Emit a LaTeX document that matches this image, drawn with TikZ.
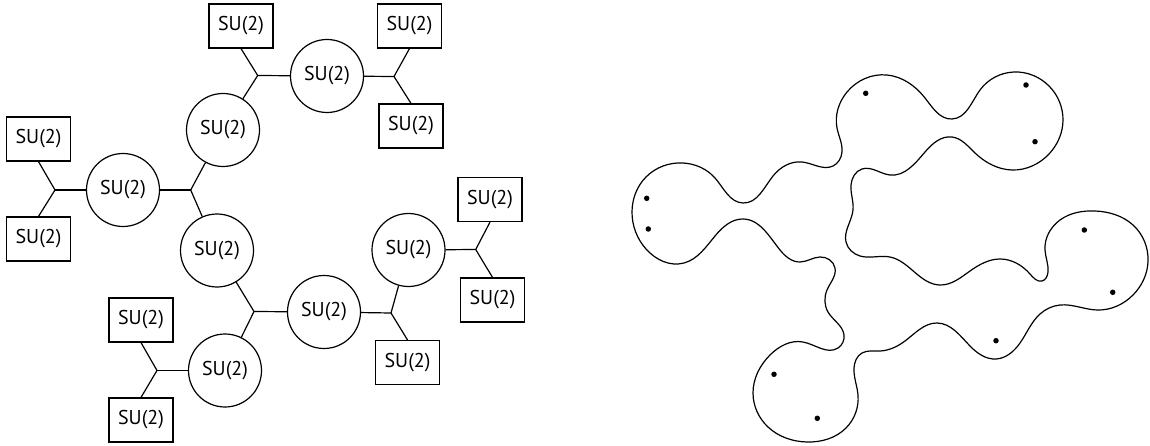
\documentclass[tikz,border=0pt]{standalone}
\usepackage{fontspec}
\setmainfont{PT Sans}
\usetikzlibrary{hobby}
\begin{document}
\begin{tikzpicture}[x=1pt,y=-1pt,
  every node/.style={font=\fontsize{20}{22}\selectfont},
  gbox/.style={draw,line width=1.2pt,minimum width=64pt,minimum height=44pt,inner sep=0pt},
  gcirc/.style={draw,circle,line width=1.2pt,minimum size=73pt,inner sep=0pt},
  link/.style={line width=1.2pt},
  blob/.style={line width=1.2pt},
  pt/.style={fill=black,circle,inner sep=0pt,minimum size=5.5pt}]
\useasboundingbox (0,0) rectangle (1150,446);
% circles
\node[gcirc] (cL) at (123,190) {SU(2)};
\node[gcirc] (c2) at (223,130) {SU(2)};
\node[gcirc] (cT) at (327,76) {SU(2)};
\node[gcirc] (c3) at (217,250.5) {SU(2)};
\node[gcirc] (cM) at (324,312) {SU(2)};
\node[gcirc] (cR) at (408.5,250) {SU(2)};
\node[gcirc] (cB) at (225,370.5) {SU(2)};
% boxes
\node[gbox] (b1) at (38.5,139) {SU(2)};
\node[gbox] (b2) at (38.5,239) {SU(2)};
\node[gbox] (b3) at (241,26) {SU(2)};
\node[gbox] (b4) at (409.5,26) {SU(2)};
\node[gbox] (b5) at (411,126) {SU(2)};
\node[gbox] (b6) at (490,199.5) {SU(2)};
\node[gbox] (b7) at (492.5,300) {SU(2)};
\node[gbox] (b8) at (407.5,362.5) {SU(2)};
\node[gbox] (b9) at (141,320) {SU(2)};
\node[gbox] (b10) at (141,420) {SU(2)};
% junctions
\coordinate (j1) at (55,190);
\coordinate (j2) at (190.7,190);
\coordinate (j3) at (257.7,75.5);
\coordinate (j4) at (394,76.5);
\coordinate (j5) at (254,311.5);
\coordinate (j6) at (391,313);
\coordinate (j7) at (475.7,249.5);
\coordinate (j8) at (157,370.5);
\draw[link] (b1.south) -- (j1) -- (b2.north);
\draw[link] (j1) -- (cL);
\draw[link] (cL) -- (j2);
\draw[link] (j2) -- (c2);
\draw[link] (j2) -- (c3);
\draw[link] (c2) -- (j3);
\draw[link] (b3.south) -- (j3) -- (cT);
\draw[link] (cT) -- (j4);
\draw[link] (b4.south) -- (j4) -- (b5.north);
\draw[link] (c3) -- (j5);
\draw[link] (j5) -- (cM);
\draw[link] (j5) -- (cB);
\draw[link] (cM) -- (j6);
\draw[link] (j6) -- (cR);
\draw[link] (j6) -- (b8.north);
\draw[link] (cR) -- (j7);
\draw[link] (b6.south) -- (j7) -- (b7.north);
\draw[link] (cB) -- (j8);
\draw[link] (b9.south) -- (j8) -- (b10.north);
% blob
\draw[blob,use Hobby shortcut,closed=true]
(632,212) .. (646,177) .. (683,163) .. (715,178) .. (743,203) .. (773,176)
.. (802,162) .. (833,166) .. (842,152) .. (837,128) .. (847,92) .. (887,75)
.. (925,98) .. (952,119) .. (980,90) .. (1014,72) .. (1049,86) .. (1063,120)
.. (1049,154) .. (1012,170) .. (975,153) .. (952,137) .. (925,152) .. (890,175)
.. (862,169) .. (851,185) .. (853,210) .. (846,242) .. (860,256) .. (890,257)
.. (940,285) .. (970,271) .. (1000,259) .. (1030,274) .. (1042,281) .. (1048,272)
.. (1045,250) .. (1060,220) .. (1095,211) .. (1133,225) .. (1148,262) .. (1133,295)
.. (1097,310) .. (1060,305) .. (1040,314) .. (1020,343) .. (996,359) .. (970,346)
.. (937,323) .. (905,341) .. (880,351) .. (862,353) .. (854,368) .. (858,395)
.. (846,428) .. (807,442) .. (768,427) .. (753,393) .. (770,355) .. (803,342)
.. (838,348) .. (844,335) .. (828,312) .. (827,290) .. (835,268) .. (820,257)
.. (800,262) .. (780,250) .. (743,219) .. (715,236) .. (684,263) .. (646,249)
.. (632,212);
% dots
\node[pt] (d1) at (646.7,198.3) {};
\node[pt] (d2) at (648.3,229) {};
\node[pt] (d3) at (865.7,93.3) {};
\node[pt] (d4) at (1026,85) {};
\node[pt] (d5) at (1035,141.7) {};
\node[pt] (d6) at (1084.3,230) {};
\node[pt] (d7) at (1112.7,292.3) {};
\node[pt] (d8) at (996,340.7) {};
\node[pt] (d9) at (774,374.3) {};
\node[pt] (d10) at (817.3,418.3) {};
\end{tikzpicture}
\end{document}
